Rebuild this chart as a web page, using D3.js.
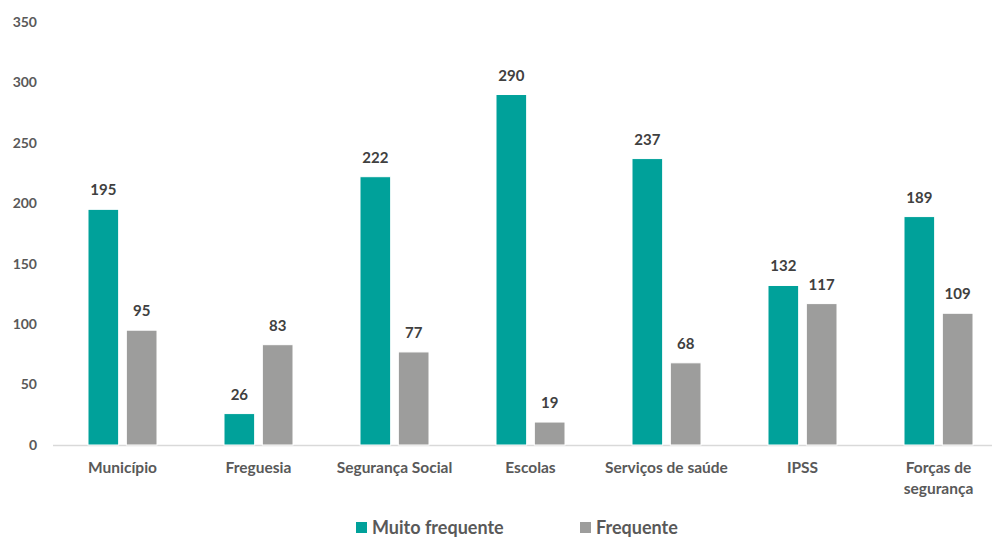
<!DOCTYPE html>
<html><head><meta charset="utf-8">
<script src="https://cdn.jsdelivr.net/npm/d3@7"></script>
<style>body{margin:0;background:#fff}svg{display:block}</style>
</head><body>
<script>
const categories = ["Município","Freguesia","Segurança Social","Escolas","Serviços de saúde","IPSS","Forças de segurança"];
const muitoFrequente = [195,26,222,290,237,132,189];
const frequente = [95,83,77,19,68,117,109];
const seriesNames = ["Muito frequente","Frequente"];
const yTicks = [0,50,100,150,200,250,300,350];
const colors = ["#00A19A","#9D9D9C"];

const W=992,H=538;
const svg=d3.select("body").append("svg").attr("width",W).attr("height",H);
const font="Lato, 'Open Sans', sans-serif";

const x=d3.scaleBand().domain(categories).range([54.5,54.5+7*136]);
const y=d3.scaleLinear().domain([0,350]).range([445,22]);
const x1=d3.scaleBand().domain(seriesNames).range([33.5,102.5]).paddingInner(0.2);

// y tick labels
svg.append("g").selectAll("text").data(yTicks).join("text")
  .attr("x",37).attr("y",d=>y(d)).attr("dy","0.35em").attr("text-anchor","end")
  .attr("font-family",font).attr("font-weight","bold").attr("font-size",14).attr("fill","#595959")
  .text(d=>d);

// axis line
svg.append("line").attr("x1",53).attr("x2",W).attr("y1",y(0)+0.5).attr("y2",y(0)+0.5)
  .attr("stroke","#D9D9D9").attr("stroke-width",1.5);

const data=categories.map((c,i)=>({c,vals:[muitoFrequente[i],frequente[i]]}));
const g=svg.append("g").selectAll("g").data(data).join("g").attr("transform",d=>`translate(${x(d.c)},0)`);
g.selectAll("rect").data(d=>d.vals.map((v,j)=>({v,s:seriesNames[j],j}))).join("rect")
  .attr("x",d=>x1(d.s)).attr("width",x1.bandwidth())
  .attr("y",d=>y(d.v)).attr("height",d=>y(0)-y(d.v))
  .attr("fill",d=>colors[d.j]).attr("stroke","#fff").attr("stroke-width",1);
g.selectAll("text.v").data(d=>d.vals.map((v,j)=>({v,s:seriesNames[j],j}))).join("text")
  .attr("class","v").attr("x",d=>x1(d.s)+x1.bandwidth()/2).attr("y",d=>y(d.v)-14)
  .attr("text-anchor","middle").attr("font-family",font).attr("font-weight","bold")
  .attr("font-size",15).attr("fill","#404040").text(d=>d.v);

// category labels
const catLines={"Forças de segurança":["Forças de","segurança"]};
svg.append("g").selectAll("text").data(categories).join("text")
  .attr("x",d=>x(d)+x.bandwidth()/2).attr("y",473)
  .attr("text-anchor","middle").attr("font-family",font).attr("font-weight","bold")
  .attr("font-size",15.5).attr("fill","#595959")
  .each(function(d){
    const lines=catLines[d]||[d];
    d3.select(this).selectAll("tspan").data(lines).join("tspan")
      .attr("x",x(d)+x.bandwidth()/2).attr("dy",(l,i)=>i?21:0).text(l=>l);
  });

// legend
const legX=[356,580];
const lg=svg.append("g").selectAll("g").data(seriesNames).join("g")
  .attr("transform",(d,i)=>`translate(${legX[i]},522)`);
lg.append("rect").attr("width",11).attr("height",11).attr("fill",(d,i)=>colors[i]);
lg.append("text").attr("x",16).attr("y",12).attr("font-family",font).attr("font-weight","bold")
  .attr("font-size",18).attr("fill","#595959").text(d=>d);
</script>
</body></html>
